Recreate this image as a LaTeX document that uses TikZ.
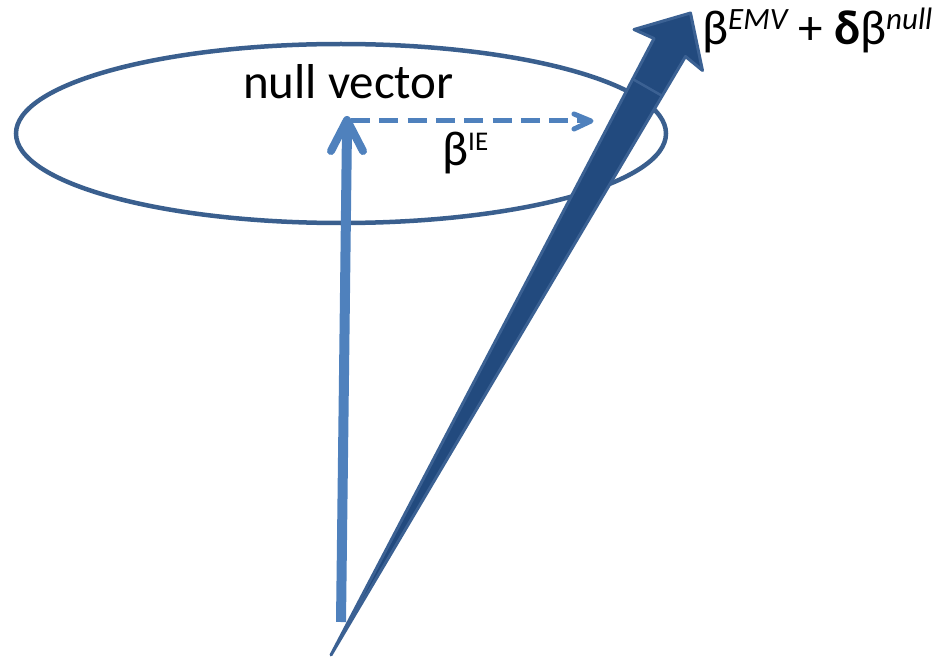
\documentclass[tikz,border=0pt]{standalone}
\usepackage{fontspec}
\setmainfont{Carlito}
\usetikzlibrary{calc}
\definecolor{lightblue}{HTML}{4F81BD}
\definecolor{ellblue}{HTML}{3A5F8E}
\definecolor{darkfill}{HTML}{224A7E}
\definecolor{darkedge}{HTML}{3B6193}
\newcommand{\mysup}[3]{\raisebox{#2}{\fontsize{#1}{#1}\selectfont #3}}
\tikzset{
  lbline/.style={draw=lightblue, line width=10pt},
  chev/.style={draw=lightblue, line cap=round, line join=round},
  ellstyle/.style={draw=ellblue, line width=4.5pt},
  bigarrow/.style={fill=darkfill, draw=darkedge, line width=3pt, line join=round},
  lbl/.style={font=\fontsize{49}{52}\selectfont, inner sep=0pt, anchor=base west}
}
\begin{document}
\begin{tikzpicture}[x=1pt,y=-1pt]
\useasboundingbox (0,0) rectangle (940,658);
% ellipse
\draw[ellstyle] (341,133.5) ellipse [x radius=325pt, y radius=89.5pt];
% light blue vertical arrow
\coordinate (vbot) at (341,622);
\coordinate (vtop) at (347,120);
\draw[lbline] (vbot) -- ($(vtop)+(0,8)$);
\draw[chev, line width=8pt] ($(vtop)+(-16,31)$) -- (vtop) -- ($(vtop)+(16,31)$);
% dashed arrow
\coordinate (dstart) at (351,121);
\coordinate (dend) at (591,121);
\draw[draw=lightblue, line width=5pt, dash pattern=on 19pt off 9.3pt] (dstart) -- ($(dend)+(-3,0)$);
\draw[chev, line width=5pt] ($(dend)+(-17,-7)$) -- (dend) -- ($(dend)+(-17,8)$);
% big dark arrow
\coordinate (p0) at (331,655);
\coordinate (rb) at (685.5,56.5);
\coordinate (rbarb) at (702.5,70.5);
\coordinate (tip) at (690.5,13);
\coordinate (lbarb) at (634,29.5);
\coordinate (lb) at (654,38.5);
\draw[bigarrow] (p0) -- (rb) -- (rbarb) -- (tip) -- (lbarb) -- (lb) -- cycle;
\coordinate (c1) at (633.5,79.5);
\coordinate (c2) at (661.5,95.5);
\draw[draw=darkedge, line width=2.5pt] (c1) -- (c2);
% labels
\node[lbl, anchor=base] (nv) at (348.5,99) {null vector};
\node[lbl] (bie) at (442,166) {β\mysup{27}{15pt}{IE}};
\node[lbl] (bemv) at (702,45) {β\mysup{31}{15pt}{\itshape EMV} + \textbf{δ}β\mysup{31}{15pt}{\itshape null}};
\end{tikzpicture}
\end{document}
